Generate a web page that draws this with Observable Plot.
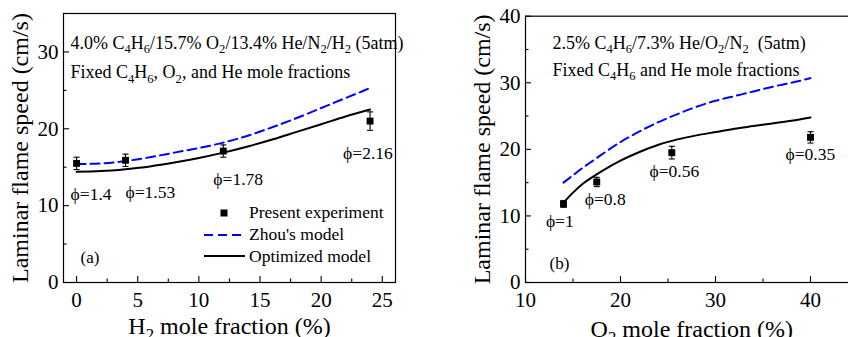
<!DOCTYPE html>
<html><head><meta charset="utf-8">
<script src="https://cdn.jsdelivr.net/npm/d3@7"></script>
<script src="https://cdn.jsdelivr.net/npm/@observablehq/plot@0.6"></script>
<style>
html,body{margin:0;padding:0;background:#fff;}
#wrap{display:flex;width:848px;height:337px;overflow:hidden;background:#fff;}
#wrap svg{flex-shrink:0;display:block;}
</style></head><body><div id="wrap"></div>
<script>
// ---------- Panel (a): H2 mole fraction ----------
const h2Frac = [0, 4, 12, 24];
const expA = [15.5, 15.9, 17.1, 21.0];
const errA = [0.8, 0.8, 0.8, 1.2];
const phiA = ["ϕ=1.4", "ϕ=1.53", "ϕ=1.78", "ϕ=2.16"];
const modelXA = [0, 2, 4, 6, 8, 10, 12, 14, 16, 18, 20, 22, 24];
const zhouA = [15.4, 15.5, 15.8, 16.3, 16.9, 17.5, 18.2, 19.1, 20.2, 21.4, 22.7, 24.0, 25.3];
const optA  = [14.4, 14.5, 14.75, 15.1, 15.6, 16.2, 16.9, 17.7, 18.6, 19.6, 20.6, 21.6, 22.5];
const xTicksA = [0, 5, 10, 15, 20, 25];
const xMinorA = [2.5, 7.5, 12.5, 17.5, 22.5];
const yTicksA = [0, 10, 20, 30];
const yMinorA = [5, 15, 25];

// ---------- Panel (b): O2 mole fraction ----------
const o2Frac = [14, 17.5, 25.4, 40];
const expB = [11.8, 15.1, 19.5, 21.8];
const errB = [0.5, 0.7, 0.95, 0.85];
const phiB = ["ϕ=1", "ϕ=0.8", "ϕ=0.56", "ϕ=0.35"];
const modelXB = [14, 15, 16, 17, 18, 20, 22, 24, 26, 28, 30, 32, 34, 36, 38, 40];
const zhouB = [15.0, 16.1, 17.2, 18.2, 19.2, 21.1, 22.7, 24.1, 25.3, 26.4, 27.3, 28.0, 28.7, 29.4, 30.0, 30.7];
const optB  = [12.0, 13.5, 14.8, 15.8, 16.7, 18.3, 19.6, 20.7, 21.5, 22.1, 22.6, 23.1, 23.5, 23.9, 24.3, 24.8];
const xTicksB = [10, 20, 30, 40];
const xMinorB = [15, 25, 35];
const yTicksB = [0, 10, 20, 30, 40];
const yMinorB = [5, 15, 25, 35];

const FONT = "Liberation Serif, Times New Roman, serif";
const BLUE = "#0000ff";

// cap symbol for error bars
const capSymbol = { draw(ctx, size) { const w = Math.sqrt(size) / 2; ctx.moveTo(-w, 0); ctx.lineTo(w, 0); } };

function applySubs(svg) {
  d3.select(svg).selectAll("text").each(function () {
    const t = this.textContent;
    if (!t.includes("_")) return;
    const base = parseFloat(getComputedStyle(this).fontSize) || 18;
    const el = d3.select(this);
    el.text(null);
    const parts = t.split(/(_\d)/).filter(p => p);
    let shifted = false;
    for (const p of parts) {
      if (p.startsWith("_")) {
        el.append("tspan").attr("font-size", base * 0.7).attr("dy", base * 0.27).text(p.slice(1));
        shifted = true;
      } else {
        const ts = el.append("tspan").text(p);
        if (shifted) { ts.attr("dy", -base * 0.27); shifted = false; }
      }
    }
  });
}

function panel(cfg) {
  const frameW = cfg.width - cfg.ml - cfg.mr;
  const frameH = cfg.height - cfg.mt - cfg.mb;
  const pts = cfg.xs.map((x, i) => ({ x, y: cfg.ys[i], e: cfg.es[i], phi: cfg.phis[i], i }));
  const zhou = cfg.mx.map((x, i) => ({ x, y: cfg.zhou[i] }));
  const opt = cfg.mx.map((x, i) => ({ x, y: cfg.opt[i] }));
  const marks = [
    Plot.frame({ stroke: "#000", strokeWidth: 1.2 }),
    // inward ticks
    Plot.ruleX(cfg.xTicks, { x: d => d, insetTop: frameH - 6, stroke: "#000", strokeWidth: 1.1 }),
    Plot.ruleX(cfg.xMinor, { x: d => d, insetTop: frameH - 3.5, stroke: "#000", strokeWidth: 1.1 }),
    Plot.ruleY(cfg.yTicks, { y: d => d, insetRight: frameW - 6, stroke: "#000", strokeWidth: 1.1 }),
    Plot.ruleY(cfg.yMinor, { y: d => d, insetRight: frameW - 3.5, stroke: "#000", strokeWidth: 1.1 }),
    Plot.axisX({ ticks: cfg.xTicks, tickSize: 0, tickPadding: 10, fontSize: 21, tickFormat: d => String(d), label: null }),
    Plot.axisY({ ticks: cfg.yTicks, tickSize: 0, tickPadding: 5, fontSize: 21, tickFormat: d => String(d), label: null }),
    // axis labels
    Plot.text([cfg.xLabel], { frameAnchor: "bottom", textAnchor: "middle", lineAnchor: "bottom", dy: cfg.xLabelDy, dx: cfg.xLabelDx, fontSize: 24, fill: "#000" }),
    Plot.text(["Laminar flame speed (cm/s)"], { frameAnchor: "left", textAnchor: "middle", lineAnchor: "middle", rotate: -90, dx: -43, fontSize: 24, fill: "#000" }),
    // annotations
    ...cfg.notes.map((n, k) => Plot.text([n], { frameAnchor: "top-left", textAnchor: "start", lineAnchor: "bottom", dx: cfg.noteDx, dy: cfg.noteDy[k], fontSize: 18, fill: "#000" })),
    Plot.text([cfg.tag], { frameAnchor: "top-left", textAnchor: "start", lineAnchor: "bottom", dx: cfg.tagPos[0], dy: cfg.tagPos[1], fontSize: 17, fill: "#000" }),
    // model curves
    Plot.line(zhou, { x: "x", y: "y", stroke: BLUE, strokeWidth: 2, strokeDasharray: "9,5", curve: "monotone-x" }),
    Plot.line(opt, { x: "x", y: "y", stroke: "#000", strokeWidth: 2, curve: "monotone-x" }),
    // error bars
    Plot.ruleX(pts, { x: "x", y1: d => d.y - d.e, y2: d => d.y + d.e, stroke: "#000", strokeWidth: 1.1 }),
    Plot.dot(pts, { x: "x", y: d => d.y - d.e, symbol: capSymbol, r: 3.4, stroke: "#000", strokeWidth: 1.1, fill: "none" }),
    Plot.dot(pts, { x: "x", y: d => d.y + d.e, symbol: capSymbol, r: 3.4, stroke: "#000", strokeWidth: 1.1, fill: "none" }),
    Plot.dot(pts, { x: "x", y: "y", symbol: "square", r: 3.9, fill: "#000", stroke: "none" }),
    // phi labels
    ...pts.map(p => Plot.text([p], { x: "x", y: "y", text: "phi", textAnchor: "start", lineAnchor: "bottom", dx: cfg.phiOff[p.i][0], dy: cfg.phiOff[p.i][1], fontSize: 17.5, fill: "#000" }))
  ];
  if (cfg.legend) marks.push(cfg.legend);
  return Plot.plot({
    width: cfg.width, height: cfg.height,
    marginLeft: cfg.ml, marginRight: cfg.mr, marginTop: cfg.mt, marginBottom: cfg.mb,
    x: { domain: cfg.xDomain },
    y: { domain: cfg.yDomain },
    style: { fontFamily: FONT, background: "white", maxWidth: "none", overflow: "visible", color: "#000" },
    marks
  });
}

const legendA = () => {
  const g = d3.create("svg:g").attr("font-family", FONT).attr("font-size", 17.5).attr("fill", "#000").attr("text-anchor", "start");
  g.append("rect").attr("x", 220.5).attr("y", 209.5).attr("width", 7).attr("height", 7).attr("fill", "#000");
  g.append("text").attr("x", 249).attr("y", 218).attr("text-anchor", "start").text("Present experiment");
  g.append("line").attr("x1", 204).attr("x2", 245).attr("y1", 235).attr("y2", 235).attr("stroke", BLUE).attr("stroke-width", 2).attr("stroke-dasharray", "9,5");
  g.append("text").attr("x", 249).attr("y", 240).attr("text-anchor", "start").text("Zhou's model");
  g.append("line").attr("x1", 204).attr("x2", 245).attr("y1", 256).attr("y2", 256).attr("stroke", "#000").attr("stroke-width", 2);
  g.append("text").attr("x", 249).attr("y", 262).attr("text-anchor", "start").text("Optimized model");
  return g.node();
};

const svgA = panel({
  width: 424, height: 337, ml: 63, mr: 29, mt: 13, mb: 55,
  xDomain: [-1.07, 26.08], yDomain: [0, 35],
  xs: h2Frac, ys: expA, es: errA, phis: phiA,
  mx: modelXA, zhou: zhouA, opt: optA,
  xTicks: xTicksA, xMinor: xMinorA, yTicks: yTicksA, yMinor: yMinorA,
  xLabel: "H_2 mole fraction (%)", xLabelDx: 0, xLabelDy: 51,
  notes: ["4.0% C_4H_6/15.7% O_2/13.4% He/N_2/H_2 (5atm)", "Fixed C_4H_6, O_2, and He mole fractions"],
  noteDx: 7, noteDy: [35, 64.5],
  tag: "(a)", tagPos: [17, 249.5],
  phiOff: [[-6, 37], [0, 38], [-10, 34], [-27, 38]],
  legend: legendA
});

const svgB = panel({
  width: 434, height: 337, ml: 101, mr: 0.5, mt: 15.7, mb: 55,
  xDomain: [10, 45], yDomain: [0, 40],
  xs: o2Frac, ys: expB, es: errB, phis: phiB,
  mx: modelXB, zhou: zhouB, opt: optB,
  xTicks: xTicksB, xMinor: xMinorB, yTicks: yTicksB, yMinor: yMinorB,
  xLabel: "O_2 mole fraction (%)", xLabelDx: 0, xLabelDy: 54,
  notes: ["2.5% C_4H_6/7.3% He/O_2/N_2  (5atm)", "Fixed C_4H_6 and He mole fractions"],
  noteDx: 27, noteDy: [32.3, 59.3],
  tag: "(b)", tagPos: [24, 252.3],
  phiOff: [[-17.6, 22.6], [-12, 22.6], [-22.3, 24.6], [-25, 22.5]],
  legend: null
});

const wrap = document.getElementById("wrap");
wrap.appendChild(svgA);
wrap.appendChild(svgB);
applySubs(svgA);
applySubs(svgB);
</script>
</body></html>
